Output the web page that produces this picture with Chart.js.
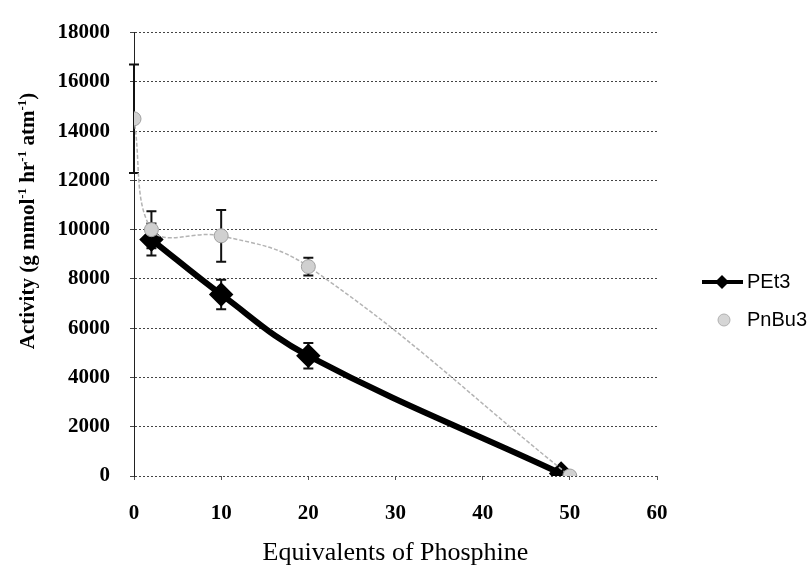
<!DOCTYPE html>
<html>
<head>
<meta charset="utf-8">
<script src="https://cdn.jsdelivr.net/npm/chart.js@4/dist/chart.umd.min.js"></script>
<style>
	html, body { margin: 0; padding: 0; background: #fff; }
</style>
</head>
<body>
<canvas id="myChart" width="812" height="571"></canvas>
<script>
// values
let pet3X = [2, 10, 20, 49];
let pet3Y = [9600, 7370, 4880, 100];
let pet3Err = [650, 600, 520, 0];

let pnbu3X = [0, 2, 10, 20, 50];
let pnbu3Y = [14500, 10000, 9750, 8500, 0];
let pnbu3Err = [2200, 750, 1050, 360, 0];

let xTicks = [0, 10, 20, 30, 40, 50, 60];
let yTicks = [0, 2000, 4000, 6000, 8000, 10000, 12000, 14000, 16000, 18000];

let seriesNames = ['PEt3', 'PnBu3'];
let xTitle = 'Equivalents of Phosphine';
let yTitleParts = [['Activity (g mmol', false], ['-1', true], [' hr', false], ['-1', true], [' atm', false], ['-1', true], [')', false]];

function toPoints(xs, ys) {
	return xs.map((x, i) => ({ x: x, y: ys[i] }));
}

// vertical error bars, drawn under the markers
const errorBars = {
	id: 'errorBars',
	beforeDatasetsDraw(chart) {
		let ctx = chart.ctx;
		let yScale = chart.scales.y;
		chart.data.datasets.forEach((ds, i) => {
			let meta = chart.getDatasetMeta(i);
			ds.errors.forEach((err, j) => {
				if (!err) return;
				let px = meta.data[j].x;
				let top = yScale.getPixelForValue(ds.data[j].y + err);
				let bottom = yScale.getPixelForValue(ds.data[j].y - err);
				ctx.save();
				ctx.strokeStyle = '#111';
				ctx.lineWidth = 2;
				ctx.beginPath();
				ctx.moveTo(px, top);
				ctx.lineTo(px, bottom);
				ctx.moveTo(px - 5, top);
				ctx.lineTo(px + 5, top);
				ctx.moveTo(px - 5, bottom);
				ctx.lineTo(px + 5, bottom);
				ctx.stroke();
				ctx.restore();
			});
		});
	}
};

// y title with superscripts
const yTitle = {
	id: 'yTitle',
	afterDraw(chart) {
		let ctx = chart.ctx;
		let big = 'bold 21px "Liberation Serif", serif';
		let small = 'bold 13px "Liberation Serif", serif';
		ctx.save();
		let total = 0;
		yTitleParts.forEach(p => {
			ctx.font = p[1] ? small : big;
			total += ctx.measureText(p[0]).width;
		});
		ctx.translate(29, 221);
		ctx.rotate(-Math.PI / 2);
		ctx.fillStyle = '#000';
		ctx.textBaseline = 'middle';
		let x = -total / 2;
		yTitleParts.forEach(p => {
			ctx.font = p[1] ? small : big;
			ctx.fillText(p[0], x, p[1] ? -6 : 0);
			x += ctx.measureText(p[0]).width;
		});
		ctx.restore();
	}
};

// legend on the right
const sideLegend = {
	id: 'sideLegend',
	afterDraw(chart) {
		let ctx = chart.ctx;
		let rows = [282, 320];
		ctx.save();
		ctx.font = '20px "Liberation Sans", sans-serif';
		ctx.textBaseline = 'middle';

		// PEt3
		ctx.strokeStyle = '#000';
		ctx.lineWidth = 4;
		ctx.beginPath();
		ctx.moveTo(702, rows[0]);
		ctx.lineTo(743, rows[0]);
		ctx.stroke();
		ctx.fillStyle = '#000';
		ctx.beginPath();
		ctx.moveTo(722, rows[0] - 7);
		ctx.lineTo(729, rows[0]);
		ctx.lineTo(722, rows[0] + 7);
		ctx.lineTo(715, rows[0]);
		ctx.closePath();
		ctx.fill();
		ctx.fillText(seriesNames[0], 747, rows[0]);

		// PnBu3
		ctx.fillStyle = '#d6d6d6';
		ctx.strokeStyle = '#b0b0b0';
		ctx.lineWidth = 1;
		ctx.beginPath();
		ctx.arc(724, rows[1], 6, 0, Math.PI * 2);
		ctx.fill();
		ctx.stroke();
		ctx.fillStyle = '#000';
		ctx.fillText(seriesNames[1], 747, rows[1]);
		ctx.restore();
	}
};

let ctx = document.getElementById('myChart');

let myChart = new Chart(ctx, {
	type: 'scatter',
	data: {
		datasets: [{
			label: seriesNames[0],
			data: toPoints(pet3X, pet3Y),
			errors: pet3Err,
			showLine: true,
			tension: 0.4,
			borderColor: '#000',
			borderWidth: 6,
			pointStyle: 'rectRot',
			pointRadius: 8,
			pointBackgroundColor: '#000',
			pointBorderColor: '#000',
			order: 2
		}, {
			label: seriesNames[1],
			data: toPoints(pnbu3X, pnbu3Y),
			errors: pnbu3Err,
			showLine: true,
			tension: 0.4,
			borderColor: '#b4b4b4',
			borderWidth: 1.5,
			borderDash: [4, 2],
			pointStyle: 'circle',
			pointRadius: 7,
			pointBackgroundColor: '#d0d0d0',
			pointBorderColor: '#a0a0a0',
			pointBorderWidth: 1,
			order: 1
		}]
	},
	options: {
		responsive: false,
		animation: false,
		devicePixelRatio: 1,
		layout: { padding: { top: 26, right: 155, left: 0, bottom: 2 } },
		plugins: {
			legend: { display: false },
			tooltip: { enabled: false }
		},
		scales: {
			x: {
				type: 'linear',
				min: 0,
				max: 60,
				afterBuildTicks: scale => { scale.ticks = xTicks.map(v => ({ value: v })); },
				afterFit: scale => { scale.height = 93; },
				grid: { drawOnChartArea: false, drawTicks: true, tickLength: 4, color: '#555' },
				border: { display: false },
				ticks: {
					padding: 21,
					color: '#000',
					callback: v => String(v),
					font: { family: '"Liberation Serif", serif', size: 21, weight: 'bold' }
				},
				title: {
					display: true,
					text: xTitle,
					color: '#000',
					padding: { top: 0, bottom: 0 },
					font: { family: '"Liberation Serif", serif', size: 26 }
				}
			},
			y: {
				min: 0,
				max: 18000,
				afterBuildTicks: scale => { scale.ticks = yTicks.map(v => ({ value: v })); },
				afterFit: scale => { scale.width = 134; },
				grid: { color: '#444', tickLength: 4 },
				border: { display: true, color: '#222', width: 1, dash: [2, 2] },
				ticks: {
					padding: 20,
					color: '#000',
					callback: v => String(v),
					font: { family: '"Liberation Serif", serif', size: 21, weight: 'bold' }
				}
			}
		}
	},
	plugins: [errorBars, yTitle, sideLegend]
});
</script>
</body>
</html>
